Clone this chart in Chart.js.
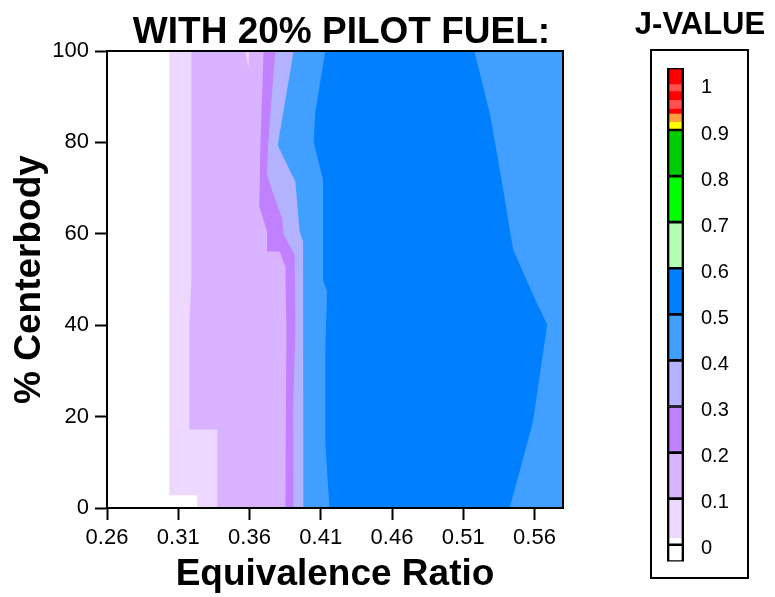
<!DOCTYPE html>
<html>
<head>
<meta charset="utf-8">
<script src="https://cdn.jsdelivr.net/npm/chart.js"></script>
<style>
  html, body { margin: 0; padding: 0; background: #fff; overflow: hidden; }
  #wrap { position: relative; width: 775px; height: 597px; }
  #main { position: absolute; left: 0; top: 0; }
  #legendBox { position: absolute; left: 650px; top: 49px; width: 99px; height: 530px;
               border: 2px solid #000; box-sizing: border-box; }
  #scale { position: absolute; left: 625px; top: 0; }
</style>
</head>
<body>
<div id="wrap">
  <canvas id="main" width="683" height="597"></canvas>
  <div id="legendBox"></div>
  <canvas id="scale" width="150" height="597"></canvas>
</div>
<script>
// Axis ticks
const xTicks = [0.26, 0.31, 0.36, 0.41, 0.46, 0.51, 0.56];
const xTickLabels = ['0.26', '0.31', '0.36', '0.41', '0.46', '0.51', '0.56'];
const yTicks = [0, 20, 40, 60, 80, 100];

// Contour edges, listed from 100% centerbody down to 0%
// white | 0-0.1
const edge01X = [0.3037, 0.3037, 0.3232, 0.3232];
const edge01Y = [100, 2.8, 2.8, 0];
// 0-0.1 | 0.1-0.2
const edge12X = [0.3192, 0.3192, 0.3178, 0.3178, 0.3374, 0.3374];
const edge12Y = [100, 49.9, 40.1, 17.2, 17.2, 0];
// 0.1-0.2 | 0.2-0.3
const edge23X = [0.3699, 0.3676, 0.3669, 0.3723, 0.3723, 0.3812, 0.3852, 0.3859, 0.3852];
const edge23Y = [100, 79.4, 65.9, 60.5, 56.1, 56.1, 52.8, 39.0, 0];
// 0.2-0.3 | 0.3-0.4
const edge34X = [0.3781, 0.3730, 0.3723, 0.3770, 0.3829, 0.3840, 0.3917, 0.3922, 0.3906, 0.3908];
const edge34Y = [100, 79.4, 72.9, 68.5, 63.4, 59.8, 55.4, 39.0, 21.6, 0];
// 0.3-0.4 | 0.4-0.5
const edge45X = [0.3910, 0.3798, 0.3922, 0.3936, 0.3952, 0.3976, 0.3978];
const edge45Y = [100, 79.4, 71.4, 66.3, 60.5, 58.3, 0];
// 0.4-0.5 | 0.5-0.6 (left side of the peak)
const edge56X = [0.4132, 0.4062, 0.4050, 0.4116, 0.4116, 0.4144, 0.4132, 0.4132, 0.4161];
const edge56Y = [100, 86.7, 80.1, 71.8, 49.9, 47.4, 34.0, 14.3, 0];
// 0.5-0.6 | 0.4-0.5 (right side of the peak)
const edge65X = [0.5178, 0.5290, 0.5361, 0.5450, 0.5595, 0.5689, 0.5588, 0.5426];
const edge65Y = [100, 85.8, 73.2, 56.5, 46.3, 40.1, 18.7, 0];
// small 0-0.1 pocket at the top
const notchX = [0.3571, 0.3599, 0.3592];
const notchY = [100, 100, 96.4];

const levelColors = ['#EDD9FF', '#D9B3FF', '#C080FF', '#B3B3FF', '#409FFF', '#007FFF'];

// Colour bar stripes
const cbLow  = [-0.0365, 0.015, 0.1, 0.2, 0.3, 0.4, 0.5, 0.6, 0.7, 0.8, 0.9, 0.918, 0.936, 0.947, 0.966, 0.985, 1.0];
const cbHigh = [0.015, 0.1, 0.2, 0.3, 0.4, 0.5, 0.6, 0.7, 0.8, 0.9, 0.918, 0.936, 0.947, 0.966, 0.985, 1.0, 1.0345];
const cbColors = ['#FFFFFF', '#EDD9FF', '#D9B3FF', '#C080FF', '#B3B3FF', '#409FFF', '#007FFF',
                  '#B3FFB3', '#00FF00', '#00CC00', '#FFFF00', '#FF9F40', '#FF0000', '#FF5050',
                  '#FF0000', '#FF5050', '#FF0000'];
// outlined boxes of the colour bar
const cbBoxLow  = [-0.0365, 0, 0.1, 0.2, 0.3, 0.4, 0.5, 0.6, 0.7, 0.8, 0.9];
const cbBoxHigh = [0, 0.1, 0.2, 0.3, 0.4, 0.5, 0.6, 0.7, 0.8, 0.9, 1.0345];
const cbTicks = [0, 0.1, 0.2, 0.3, 0.4, 0.5, 0.6, 0.7, 0.8, 0.9, 1];
const cbLabels = ['0', '0.1', '0.2', '0.3', '0.4', '0.5', '0.6', '0.7', '0.8', '0.9', '1'];

const X_MIN = 0.26, X_MAX = 0.58, Y_MIN = 0, Y_MAX = 100;

Chart.defaults.font.family = "'Liberation Sans', Arial, Helvetica, sans-serif";
Chart.defaults.color = '#000';

function pts(xs, ys) {
    return xs.map((x, i) => ({x: x, y: ys[i]}));
}

// band from an edge out to the right border
function toRight(xs, ys) {
    return [{x: X_MAX, y: Y_MAX}].concat(pts(xs, ys), [{x: X_MAX, y: Y_MIN}]);
}

let regions = [
    {data: toRight(edge01X, edge01Y), color: levelColors[0]},
    {data: toRight(edge12X, edge12Y), color: levelColors[1]},
    {data: toRight(edge23X, edge23Y), color: levelColors[2]},
    {data: toRight(edge34X, edge34Y), color: levelColors[3]},
    {data: toRight(edge45X, edge45Y), color: levelColors[4]},
    {data: pts(edge56X, edge56Y).concat(pts(edge65X, edge65Y).reverse()), color: levelColors[5]},
    {data: pts(notchX, notchY), color: levelColors[0]}
];

// later regions paint over earlier ones
let datasets = regions.map((r, i) => ({
    type: 'line',
    data: r.data,
    backgroundColor: r.color,
    borderWidth: 0,
    pointRadius: 0,
    tension: 0,
    fill: 'shape',
    order: regions.length - i
}));

const frame = {display: true, color: '#000', width: 2, z: 1};

new Chart(document.getElementById('main'), {
    type: 'line',
    data: {datasets: datasets},
    options: {
        responsive: false,
        animation: false,
        layout: {padding: 0},
        plugins: {
            legend: {display: false},
            tooltip: {enabled: false},
            title: {
                display: true,
                text: 'WITH 20% PILOT FUEL:',
                color: '#000',
                font: {size: 37, weight: 'bold', lineHeight: 1},
                padding: {top: 14, bottom: 0}
            }
        },
        scales: {
            x: {
                type: 'linear', position: 'bottom', min: X_MIN, max: X_MAX,
                afterBuildTicks: s => { s.ticks = xTicks.map(v => ({value: v})); },
                afterFit: s => { s.height = 89; },
                grid: {drawOnChartArea: false, drawTicks: true, tickLength: 12, tickWidth: 2, tickColor: '#000'},
                border: frame,
                ticks: {color: '#000', font: {size: 22}, padding: 5, maxRotation: 0, autoSkip: false,
                        callback: (v, i) => xTickLabels[i]},
                title: {display: true, text: 'Equivalence Ratio', color: '#000',
                        font: {size: 37, weight: 'bold'}, padding: {top: 0, bottom: 0}}
            },
            y: {
                type: 'linear', position: 'left', min: Y_MIN, max: Y_MAX,
                afterBuildTicks: s => { s.ticks = yTicks.map(v => ({value: v})); },
                afterFit: s => { s.width = 107; },
                grid: {drawOnChartArea: false, drawTicks: true, tickLength: 12, tickWidth: 2, tickColor: '#000'},
                border: frame,
                ticks: {color: '#000', font: {size: 22}, padding: 6},
                title: {display: true, text: '% Centerbody', color: '#000',
                        font: {size: 37, weight: 'bold'}, padding: {top: 8, bottom: 0}}
            },
            xTop: {
                type: 'linear', position: 'top', min: X_MIN, max: X_MAX,
                ticks: {display: false}, grid: {display: false, drawTicks: false},
                border: frame,
                afterFit: s => { s.height = 0; }
            },
            yRight: {
                type: 'linear', position: 'right', min: Y_MIN, max: Y_MAX,
                ticks: {display: false}, grid: {display: false, drawTicks: false},
                border: frame,
                afterFit: s => { s.width = 120; }
            }
        }
    }
});

// Colour bar
new Chart(document.getElementById('scale'), {
    type: 'bar',
    data: {
        labels: ['J'],
        datasets: [
            {
                data: cbBoxLow.map((v, i) => ({x: 'J', y: [v, cbBoxHigh[i]]})),
                backgroundColor: 'rgba(0,0,0,0)',
                borderColor: '#000',
                borderWidth: {top: 1, bottom: 1, left: 2, right: 2},
                borderSkipped: false,
                grouped: false,
                barPercentage: 1,
                categoryPercentage: 1,
                order: 0
            },
            {
                data: cbLow.map((v, i) => ({x: 'J', y: [v, cbHigh[i]]})),
                backgroundColor: cbColors,
                borderWidth: 0,
                grouped: false,
                barPercentage: 1,
                categoryPercentage: 1,
                order: 1
            }
        ]
    },
    options: {
        responsive: false,
        animation: false,
        layout: {padding: {bottom: 35.4}},
        plugins: {
            legend: {display: false},
            tooltip: {enabled: false},
            title: {
                display: true,
                text: 'J-VALUE',
                color: '#000',
                font: {size: 31, weight: 'bold', lineHeight: 1},
                padding: {top: 10, bottom: 27}
            }
        },
        scales: {
            x: {type: 'category', display: false},
            y: {
                type: 'linear', position: 'right', min: -0.0365, max: 1.0345,
                afterBuildTicks: s => { s.ticks = cbTicks.map(v => ({value: v})); },
                afterFit: s => { s.width = 91; },
                grid: {display: false, drawTicks: false},
                border: {display: false},
                ticks: {color: '#000', font: {size: 20}, padding: 17, labelOffset: 4,
                        callback: (v, i) => cbLabels[i]}
            },
            yLeft: {
                type: 'linear', position: 'left',
                ticks: {display: false}, grid: {display: false, drawTicks: false},
                border: {display: false},
                afterFit: s => { s.width = 42; }
            }
        }
    }
});
</script>
</body>
</html>
